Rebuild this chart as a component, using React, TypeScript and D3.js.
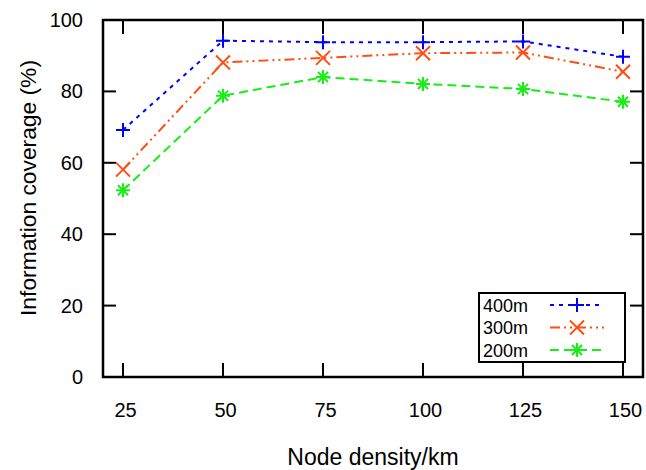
import React from "react";
import * as d3 from "d3";

const densities = [25, 50, 75, 100, 125, 150];
const cov400 = [69.2, 94.2, 93.8, 93.8, 94.0, 89.7];
const cov300 = [58.1, 88.1, 89.4, 90.7, 90.9, 85.5];
const cov200 = [52.3, 78.8, 84.0, 82.1, 80.7, 77.1];
const yTicks = [0, 20, 40, 60, 80, 100];
const seriesNames = ["400m", "300m", "200m"];

const W = 646, H = 470;
const left = 103, right = 643, top = 20, bottom = 377;
const font = "'Liberation Sans', Arial, Helvetica, sans-serif";

type Marker = "plus" | "cross" | "star";
const series = [
  { name: seriesNames[0], values: cov400, color: "#0000ff", dash: "4,5", marker: "plus" as Marker },
  { name: seriesNames[1], values: cov300, color: "#ff4e14", dash: "10,4,2,4,2,4", marker: "cross" as Marker },
  { name: seriesNames[2], values: cov200, color: "#16ee16", dash: "9,5", marker: "star" as Marker },
];

function MarkerShape({ type, x, y, color }: { type: Marker; x: number; y: number; color: string }) {
  const s = 7;
  let d = "";
  if (type === "plus") d = `M${x - s},${y}H${x + s}M${x},${y - s}V${y + s}`;
  else if (type === "cross") d = `M${x - s},${y - s}L${x + s},${y + s}M${x - s},${y + s}L${x + s},${y - s}`;
  else
    d = `M${x - s},${y}H${x + s}M${x},${y - s}V${y + s}M${x - s * 0.72},${y - s * 0.72}L${x + s * 0.72},${y + s * 0.72}M${x - s * 0.72},${y + s * 0.72}L${x + s * 0.72},${y - s * 0.72}`;
  return <path d={d} stroke={color} strokeWidth={2} fill="none" />;
}

export default function App() {
  const x = d3.scaleLinear().domain([20, 155]).range([left, right]);
  const y = d3.scaleLinear().domain([0, 100]).range([bottom, top]);
  const line = d3
    .line<number>()
    .x((_, i) => x(densities[i]))
    .y((v) => y(v));

  const legX = 479, legY = 293, legW = 146, legH = 69;
  const rowY = [305, 327.5, 350];

  return (
    <svg width={W} height={H} style={{ position: "absolute", left: 0, top: 0, background: "#fff" }} fontFamily={font}>
      {/* ticks */}
      {densities.map((d) => (
        <g key={"xt" + d}>
          <line x1={x(d)} x2={x(d)} y1={bottom} y2={bottom - 14} stroke="#000" strokeWidth={2} />
          <line x1={x(d)} x2={x(d)} y1={top} y2={top + 14} stroke="#000" strokeWidth={2} />
          <text x={x(d) + 2.5} y={417} fontSize={20} textAnchor="middle" fill="#000">
            {d}
          </text>
        </g>
      ))}
      {yTicks.map((t) => (
        <g key={"yt" + t}>
          <line x1={left} x2={left + 13} y1={y(t)} y2={y(t)} stroke="#000" strokeWidth={2} />
          <line x1={right} x2={right - 13} y1={y(t)} y2={y(t)} stroke="#000" strokeWidth={2} />
          <text x={83} y={y(t) + 7} fontSize={20} textAnchor="end" fill="#000">
            {t}
          </text>
        </g>
      ))}
      {/* series */}
      {series.map((s) => (
        <g key={s.name}>
          <path d={line(s.values) || ""} fill="none" stroke={s.color} strokeWidth={2} strokeDasharray={s.dash} />
          {s.values.map((v, i) => (
            <MarkerShape key={i} type={s.marker} x={x(densities[i])} y={y(v)} color={s.color} />
          ))}
        </g>
      ))}
      {/* legend */}
      <rect x={legX} y={legY} width={legW} height={legH} fill="#fff" stroke="#000" strokeWidth={2} />
      {series.map((s, i) => (
        <g key={"leg" + s.name}>
          <text x={483} y={rowY[i] + 6.5} fontSize={18} fill="#000">
            {s.name}
          </text>
          <line x1={550} x2={604} y1={rowY[i]} y2={rowY[i]} stroke={s.color} strokeWidth={2} strokeDasharray={s.dash} />
          <MarkerShape type={s.marker} x={577} y={rowY[i]} color={s.color} />
        </g>
      ))}
      {/* frame */}
      <rect x={left} y={top} width={right - left} height={bottom - top} fill="none" stroke="#000" strokeWidth={2.5} />
      {/* axis labels */}
      <text x={(left + right) / 2} y={465} fontSize={23} textAnchor="middle" fill="#000">
        Node density/km
      </text>
      <text transform={`translate(36,188) rotate(-90)`} fontSize={22.8} textAnchor="middle" fill="#000">
        Information coverage (%)
      </text>
    </svg>
  );
}
